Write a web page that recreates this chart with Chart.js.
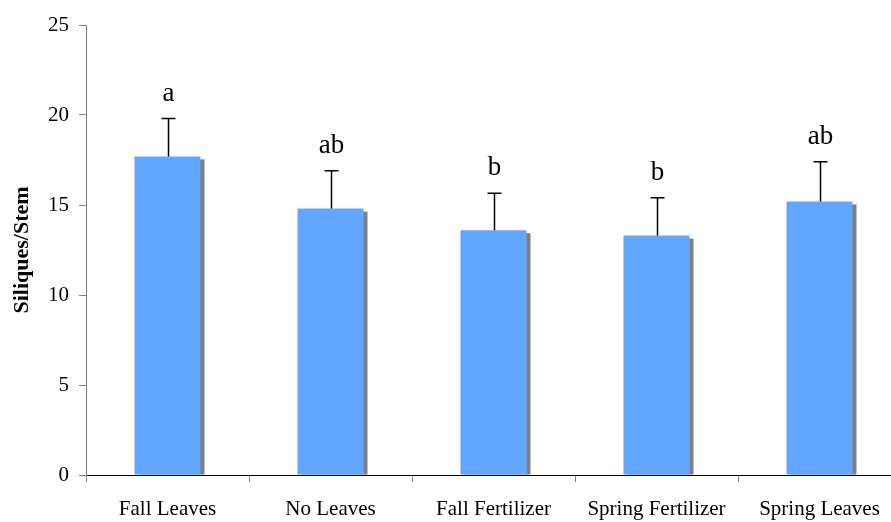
<!DOCTYPE html>
<html>
<head>
<meta charset="utf-8">
<script src="https://cdn.jsdelivr.net/npm/chart.js@4.4.1/dist/chart.umd.min.js"></script>
<style>
  html, body { margin: 0; padding: 0; background: #ffffff; overflow: hidden; }
  #wrap { width: 905px; height: 522px; }
</style>
</head>
<body>
<div id="wrap"><canvas id="chart" width="905" height="522"></canvas></div>
<script>
// Treatments along the x axis
const categories = ['Fall Leaves', 'No Leaves', 'Fall Fertilizer', 'Spring Fertilizer', 'Spring Leaves'];
// Mean siliques per stem for each treatment
const means = [17.7, 14.8, 13.6, 13.3, 15.2];
// Upper error (standard error) for each mean
const errors = [2.1, 2.1, 2.05, 2.1, 2.2];
// Significance group letters
const groups = ['a', 'ab', 'b', 'b', 'ab'];
// Y axis ticks
const yTicks = [0, 5, 10, 15, 20, 25];

const SERIF = '"Liberation Serif", "Times New Roman", serif';

// Gray drop shadow behind each bar
const shadowPlugin = {
  id: 'barShadow',
  beforeDatasetsDraw(chart) {
    const ctx = chart.ctx;
    const meta = chart.getDatasetMeta(0);
    ctx.save();
    ctx.fillStyle = '#808080';
    meta.data.forEach(bar => {
      const half = bar.width / 2;
      ctx.fillRect(bar.x - half + 4, bar.y + 3, bar.width, bar.base - bar.y - 3);
    });
    ctx.restore();
  }
};

// Upper error whiskers and group letters
const errorPlugin = {
  id: 'errorBars',
  afterDatasetsDraw(chart) {
    const ctx = chart.ctx;
    const y = chart.scales.y;
    const meta = chart.getDatasetMeta(0);
    ctx.save();
    ctx.strokeStyle = '#000000';
    ctx.lineWidth = 1.5;
    meta.data.forEach((bar, i) => {
      const top = y.getPixelForValue(means[i] + errors[i]);
      const x = Math.round(bar.x) + 0.5;
      ctx.beginPath();
      ctx.moveTo(x, bar.y);
      ctx.lineTo(x, top);
      ctx.moveTo(x - 7, top);
      ctx.lineTo(x + 7, top);
      ctx.stroke();
      ctx.fillStyle = '#000000';
      ctx.font = '27px ' + SERIF;
      ctx.textAlign = 'center';
      ctx.textBaseline = 'alphabetic';
      ctx.fillText(groups[i], x, top - 18);
    });
    ctx.restore();
  }
};

new Chart(document.getElementById('chart'), {
  type: 'bar',
  data: {
    labels: categories,
    datasets: [{
      data: means,
      backgroundColor: '#62A7FF',
      borderWidth: 0,
      categoryPercentage: 1.0,
      barPercentage: 0.405
    }]
  },
  options: {
    responsive: false,
    animation: false,
    devicePixelRatio: 1,
    layout: { padding: { top: 25, right: 4, left: 0, bottom: 0 } },
    plugins: {
      legend: { display: false },
      tooltip: { enabled: false }
    },
    scales: {
      x: {
        offset: true,
        border: { color: '#000000', width: 1 },
        grid: { drawOnChartArea: false, offset: true, color: '#808080', tickLength: 7 },
        ticks: { color: '#000000', padding: 15, maxRotation: 0, font: { family: SERIF, size: 21 } },
        afterFit(scale) { scale.height = 47; }
      },
      y: {
        min: 0,
        max: 25,
        afterBuildTicks(scale) { scale.ticks = yTicks.map(v => ({ value: v })); },
        border: { color: '#808080', width: 1 },
        grid: { drawOnChartArea: false, color: '#808080', tickLength: 7 },
        ticks: { color: '#000000', padding: 10, font: { family: SERIF, size: 21 } },
        title: {
          display: true,
          text: 'Siliques/Stem',
          color: '#000000',
          padding: { top: 9, bottom: 0 },
          font: { family: SERIF, size: 22, weight: 'bold' }
        },
        afterFit(scale) { scale.width = 86; }
      }
    }
  },
  plugins: [shadowPlugin, errorPlugin]
});
</script>
</body>
</html>
